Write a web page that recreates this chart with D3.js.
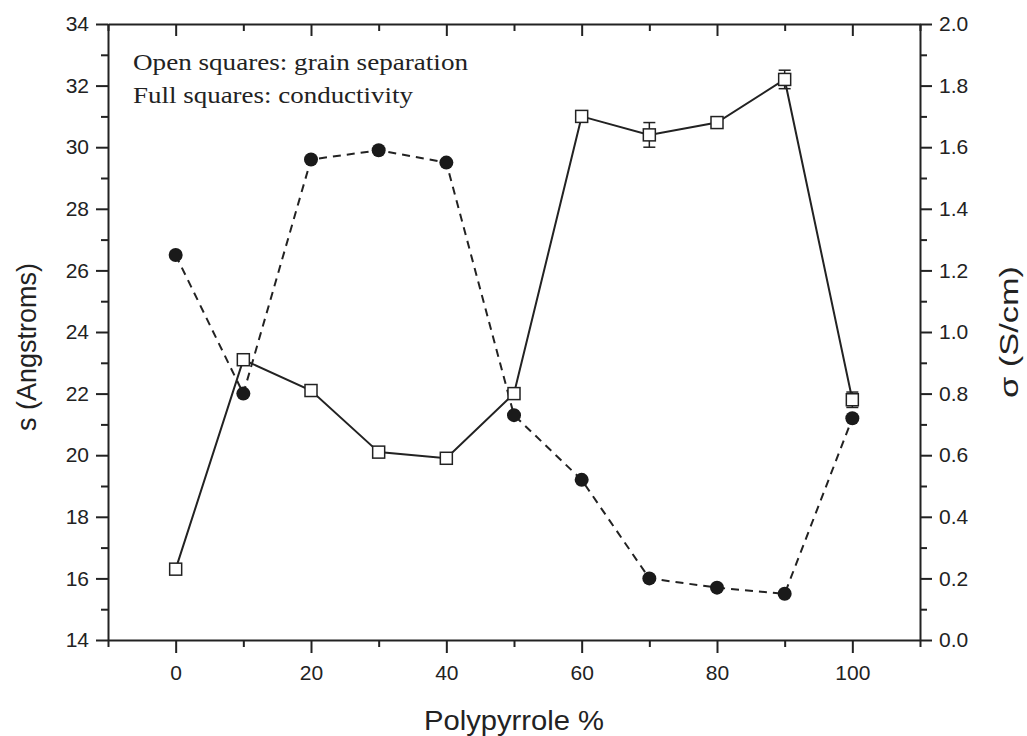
<!DOCTYPE html>
<meta charset="utf-8">
<script src="https://d3js.org/d3.v7.min.js"></script>
<style>
body { margin: 0; background: #fff; }
svg text { font-family: "Liberation Sans", Arial, sans-serif; fill: #222; }
.note { font-family: "Liberation Serif", "Times New Roman", serif; }
</style>
<div id="chart"></div>
<script>
// data
var polypyrrole = [0, 10, 20, 30, 40, 50, 60, 70, 80, 90, 100];
var grainSep = [16.3, 23.1, 22.1, 20.1, 19.9, 22.0, 31.0, 30.4, 30.8, 32.2, 21.8];
var grainErr = [0, 0.1, 0, 0.15, 0, 0.15, 0, 0.4, 0, 0.3, 0.25];
var conductivity = [1.25, 0.80, 1.56, 1.59, 1.55, 0.73, 0.52, 0.20, 0.17, 0.15, 0.72];
var xTicks = [0, 20, 40, 60, 80, 100];
var yLeftTicks = [14, 16, 18, 20, 22, 24, 26, 28, 30, 32, 34];
var yRightTicks = [0, 0.2, 0.4, 0.6, 0.8, 1.0, 1.2, 1.4, 1.6, 1.8, 2.0];

var W = 1027, H = 736;
var margin = { top: 24, right: 107, bottom: 96, left: 108 };
var width = W - margin.left - margin.right,
    height = H - margin.top - margin.bottom;

var svg = d3.select("#chart").append("svg")
    .attr("width", W).attr("height", H)
  .append("g")
    .attr("transform", "translate(" + margin.left + "," + margin.top + ")");

var x = d3.scaleLinear().domain([-10, 110]).range([0, width]);
var yL = d3.scaleLinear().domain([14, 34]).range([height, 0]);
var yR = d3.scaleLinear().domain([0, 2]).range([height, 0]);

var minorX = d3.range(-10, 111, 20);
var minorL = d3.range(15, 34, 2);
var minorR = d3.range(0.1, 2, 0.2);

function styleAxis(g) {
  g.selectAll("path").attr("stroke", "#222").attr("stroke-width", 2);
  g.selectAll("line").attr("stroke", "#222").attr("stroke-width", 2);
  g.selectAll("text").attr("font-size", "21px");
}

// bottom axis
svg.append("g").attr("transform", "translate(0," + height + ")")
  .call(d3.axisBottom(x).tickValues(xTicks).tickSize(13).tickSizeOuter(0).tickPadding(12))
  .call(styleAxis);
svg.append("g").attr("transform", "translate(0," + height + ")")
  .call(d3.axisBottom(x).tickValues(minorX).tickSize(7).tickSizeOuter(0).tickFormat(""))
  .call(styleAxis).select("path").remove();

// top axis (ticks inside)
svg.append("g")
  .call(d3.axisBottom(x).tickValues(xTicks).tickSize(12).tickSizeOuter(0).tickFormat(""))
  .call(styleAxis);
svg.append("g")
  .call(d3.axisBottom(x).tickValues(minorX).tickSize(7).tickSizeOuter(0).tickFormat(""))
  .call(styleAxis).select("path").remove();

// left axis
svg.append("g")
  .call(d3.axisLeft(yL).tickValues(yLeftTicks).tickSize(12).tickSizeOuter(0).tickPadding(7))
  .call(styleAxis);
svg.append("g")
  .call(d3.axisLeft(yL).tickValues(minorL).tickSize(7).tickSizeOuter(0).tickFormat(""))
  .call(styleAxis).select("path").remove();

// right axis
svg.append("g").attr("transform", "translate(" + width + ",0)")
  .call(d3.axisRight(yR).tickValues(yRightTicks).tickSize(12).tickSizeOuter(0).tickPadding(7)
    .tickFormat(d3.format(".1f")))
  .call(styleAxis);
svg.append("g").attr("transform", "translate(" + width + ",0)")
  .call(d3.axisRight(yR).tickValues(minorR).tickSize(7).tickSizeOuter(0).tickFormat(""))
  .call(styleAxis).select("path").remove();

// axis titles
svg.append("text")
  .attr("x", width / 2).attr("y", height + 90)
  .attr("text-anchor", "middle").attr("font-size", "28px")
  .attr("textLength", 180).attr("lengthAdjust", "spacingAndGlyphs")
  .text("Polypyrrole %");
svg.append("text")
  .attr("transform", "translate(-72," + 323 + ") rotate(-90)")
  .attr("text-anchor", "middle").attr("font-size", "27px")
  .text("s (Angstroms)");
svg.append("text")
  .attr("transform", "translate(" + (width + 98) + "," + (height / 2) + ") rotate(-90)")
  .attr("text-anchor", "middle").attr("font-size", "26px")
  .attr("textLength", 132).attr("lengthAdjust", "spacingAndGlyphs")
  .text("σ (S/cm)");

// conductivity: dashed line with filled circles
var condLine = d3.line()
  .x(function(d, i) { return x(polypyrrole[i]); })
  .y(function(d) { return yR(d); });
svg.append("path").datum(conductivity)
  .attr("d", condLine)
  .attr("fill", "none").attr("stroke", "#222").attr("stroke-width", 2)
  .attr("stroke-dasharray", "8,6");

// grain separation: solid line with open squares
var sepLine = d3.line()
  .x(function(d, i) { return x(polypyrrole[i]); })
  .y(function(d) { return yL(d); });
svg.append("path").datum(grainSep)
  .attr("d", sepLine)
  .attr("fill", "none").attr("stroke", "#222").attr("stroke-width", 2);

svg.selectAll(".dot").data(conductivity).enter().append("circle")
  .attr("cx", function(d, i) { return x(polypyrrole[i]); })
  .attr("cy", function(d) { return yR(d); })
  .attr("r", 7).attr("fill", "#1a1a1a");

// error bars
var errData = polypyrrole.map(function(p, i) { return { p: p, v: grainSep[i], e: grainErr[i] }; })
  .filter(function(d) { return d.e > 0; });
var errG = svg.selectAll(".err").data(errData).enter().append("g");
errG.append("line")
  .attr("x1", function(d) { return x(d.p); })
  .attr("x2", function(d) { return x(d.p); })
  .attr("y1", function(d) { return yL(d.v + d.e); })
  .attr("y2", function(d) { return yL(d.v - d.e); })
  .attr("stroke", "#222").attr("stroke-width", 1.5);
[1, -1].forEach(function(s) {
  errG.append("line")
    .attr("x1", function(d) { return x(d.p) - 6; })
    .attr("x2", function(d) { return x(d.p) + 6; })
    .attr("y1", function(d) { return yL(d.v + s * d.e); })
    .attr("y2", function(d) { return yL(d.v + s * d.e); })
    .attr("stroke", "#222").attr("stroke-width", 1.5);
});

svg.selectAll(".sq").data(grainSep).enter().append("rect")
  .attr("x", function(d, i) { return x(polypyrrole[i]) - 6; })
  .attr("y", function(d) { return yL(d) - 6; })
  .attr("width", 12).attr("height", 12)
  .attr("fill", "#fff").attr("stroke", "#222").attr("stroke-width", 1.5);

// annotation
svg.append("text").attr("class", "note")
  .attr("x", 25).attr("y", 46).attr("font-size", "23px")
  .attr("textLength", 335).attr("lengthAdjust", "spacingAndGlyphs")
  .text("Open squares: grain separation");
svg.append("text").attr("class", "note")
  .attr("x", 25).attr("y", 79).attr("font-size", "23px")
  .attr("textLength", 280).attr("lengthAdjust", "spacingAndGlyphs")
  .text("Full squares: conductivity");
</script>
